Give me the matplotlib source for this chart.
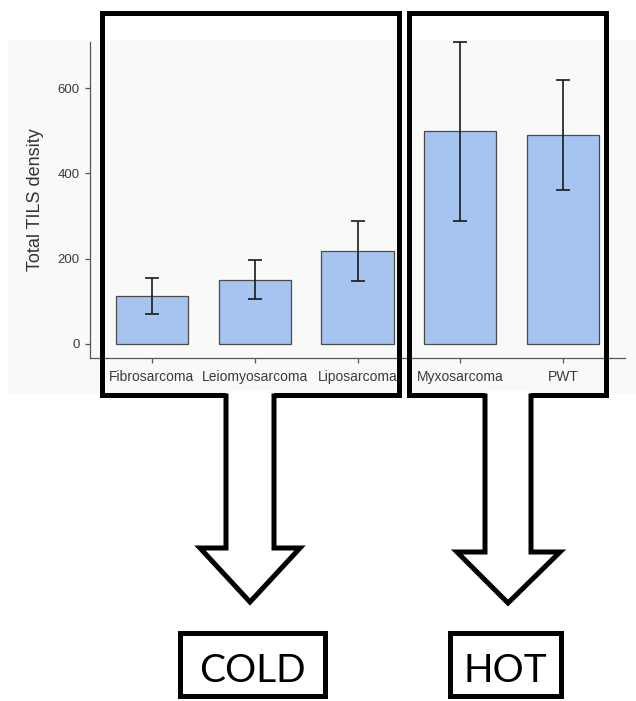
import matplotlib
matplotlib.use("Agg")
import matplotlib.pyplot as plt
from matplotlib.patches import Rectangle, Polygon
from matplotlib.lines import Line2D
import numpy as np

categories = ["Fibrosarcoma", "Leiomyosarcoma", "Liposarcoma", "Myxosarcoma", "PWT"]
means = [112, 150, 218, 500, 490]
err_low = [70, 105, 148, 289, 361]
err_high = [155, 196, 288, 708, 620]
y_ticks = [0, 200, 400, 600]
groups = ["COLD", "HOT"]

W, H = 636, 701
fig = plt.figure(figsize=(W / 100, H / 100), dpi=100)
fig.patch.set_facecolor("white")

def fx(x):
    return x / W

def fy(y):
    return 1 - y / H

# chart panel background
fig.add_artist(Rectangle((fx(8), fy(393)), fx(628), 353 / H, transform=fig.transFigure,
                         facecolor="#f9f9f8", edgecolor="none", zorder=0))

ax = fig.add_axes([fx(90), fy(358), fx(625 - 90), (358 - 42) / H])
ax.set_facecolor("#f9f9f8")
x = np.arange(len(categories))
ax.bar(x, means, width=0.7, color="#a6c4f0", edgecolor="#4a4a4a", linewidth=0.9, zorder=2)
means_a = np.array(means)
yerr = np.vstack([means_a - np.array(err_low), np.array(err_high) - means_a])
ax.errorbar(x, means, yerr=yerr, fmt="none", ecolor="#1a1a1a", elinewidth=1.2,
            capsize=5, capthick=1.2, zorder=3, clip_on=False)
ax.set_xlim(-0.6, 4.6)
ax.set_ylim(-33, 708)
ax.set_yticks(y_ticks)
ax.set_xticks(x)
ax.set_xticklabels(categories, fontsize=10, color="#3a3a3a", family="Liberation Sans")
ax.set_yticklabels([str(v) for v in y_ticks], fontsize=9.5, color="#3a3a3a", family="Liberation Sans")
ax.set_ylabel("Total TILS density", fontsize=13, color="#333333", family="Liberation Sans", labelpad=10)
for s in ["top", "right"]:
    ax.spines[s].set_visible(False)
for s in ["left", "bottom"]:
    ax.spines[s].set_color("#555555")
    ax.spines[s].set_linewidth(0.9)
ax.tick_params(axis="both", colors="#555555", length=3.5, width=0.9, labelcolor="#3a3a3a")
ax.tick_params(axis="x", pad=5)
ax.tick_params(axis="y", pad=4)

LW = 3.6  # ~5 px

# group frames
def frame(x0, y0, x1, y1):
    fig.add_artist(Rectangle((fx(x0), fy(y1)), fx(x1 - x0), (y1 - y0) / H,
                             transform=fig.transFigure, facecolor="none",
                             edgecolor="black", linewidth=LW, zorder=10))

frame(101.5, 13, 399, 395.5)
frame(408.5, 13, 606, 395.5)

# block arrows
def arrow(sl, sr, hl, hr, hy, tipx, tipy, top=391):
    pts = [(sl, top), (sl, hy), (hl, hy), (tipx, tipy), (hr, hy), (sr, hy), (sr, top)]
    fig.add_artist(Polygon([(fx(a), fy(b)) for a, b in pts], closed=True,
                           transform=fig.transFigure, facecolor="white",
                           edgecolor="none", zorder=11))
    outline = [(sl, 396), (sl, hy), (hl, hy), (tipx, tipy), (hr, hy), (sr, hy), (sr, 396)]
    fig.add_artist(Line2D([fx(a) for a, _ in outline], [fy(b) for _, b in outline],
                          transform=fig.transFigure, color="black", linewidth=LW,
                          solid_joinstyle="miter", zorder=12))

arrow(226, 274, 200, 300, 548, 250, 602)
arrow(485, 531, 457, 560, 552, 508, 603)

# label boxes
def label_box(x0, y0, x1, y1, text):
    fig.add_artist(Rectangle((fx(x0), fy(y1)), fx(x1 - x0), (y1 - y0) / H,
                             transform=fig.transFigure, facecolor="white",
                             edgecolor="black", linewidth=LW, zorder=10))
    fig.text(fx((x0 + x1) / 2), fy((y0 + y1) / 2 + 6), text, ha="center", va="center",
             fontsize=28, family="Lato", color="black", zorder=11)

label_box(180, 633, 325, 696, groups[0])
label_box(450, 633, 561, 696, groups[1])

fig.savefig("out.png", dpi=100)
